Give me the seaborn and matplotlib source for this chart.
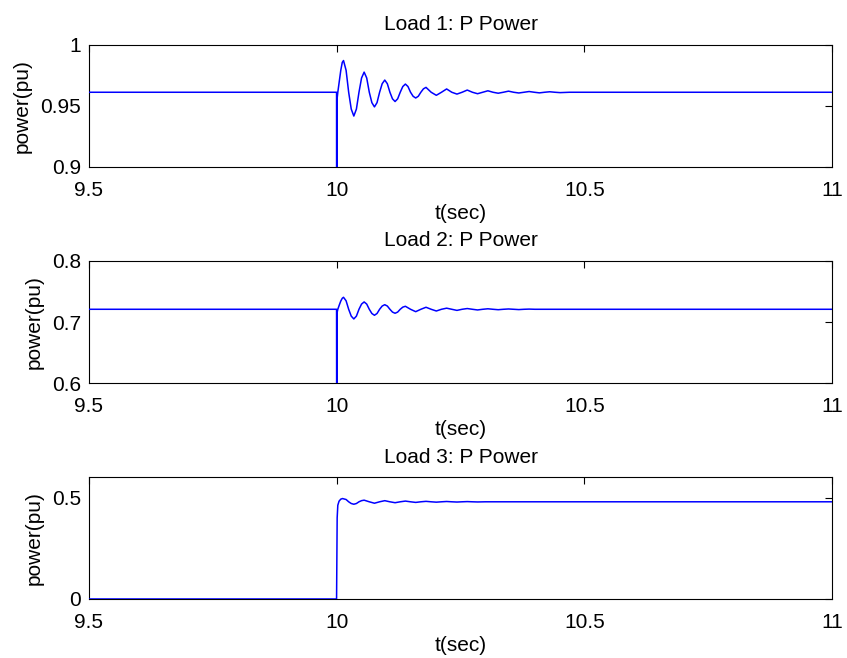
import matplotlib
matplotlib.use("Agg")
import matplotlib.pyplot as plt
import matplotlib.ticker as mticker
import seaborn as sns

# Load 1: P power (pu)
t1 = [9.5, 10.0, 10.0003, 10.0009, 10.0025, 10.0055, 10.0085, 10.0115, 10.014,
      10.0192, 10.0244, 10.0296, 10.0348, 10.040, 10.0452, 10.0504, 10.0556,
      10.0608, 10.066, 10.0712, 10.0764, 10.0816, 10.0868, 10.092, 10.0972,
      10.1024, 10.1076, 10.1128, 10.118, 10.1232, 10.1284, 10.1336, 10.1388,
      10.144, 10.1492, 10.1544, 10.1596, 10.1648, 10.170, 10.1752, 10.1804,
      10.1908, 10.2012, 10.2116, 10.222, 10.2324, 10.2428, 10.2532, 10.2636,
      10.274, 10.2844, 10.2948, 10.3052, 10.3156, 10.326, 10.3364, 10.3468,
      10.3572, 10.3676, 10.378, 10.3884, 10.3988, 10.4092, 10.4196, 10.430,
      10.4404, 10.4508, 10.47, 11.0]
p1 = [0.961, 0.961, 0.55, 0.955, 0.961, 0.970, 0.979, 0.9855, 0.987,
      0.979, 0.961, 0.9472, 0.9415, 0.9472, 0.961, 0.9727, 0.9775,
      0.9727, 0.961, 0.9525, 0.949, 0.9525, 0.961, 0.968, 0.971,
      0.968, 0.961, 0.9556, 0.9534, 0.9556, 0.961, 0.9657, 0.9677,
      0.9657, 0.961, 0.9577, 0.9563, 0.9577, 0.961, 0.9638, 0.965,
      0.961, 0.9585, 0.961, 0.9637, 0.961, 0.9595, 0.961, 0.9628,
      0.961, 0.9598, 0.961, 0.9622, 0.961, 0.9602, 0.961, 0.9619,
      0.961, 0.9604, 0.961, 0.9616, 0.961, 0.9605, 0.961, 0.9614,
      0.961, 0.9607, 0.961, 0.961]

# Load 2
t2 = [9.5, 10.0, 10.0003, 10.0009, 10.0025, 10.0055, 10.0085, 10.0115, 10.014,
      10.0192, 10.0244, 10.0296, 10.0348, 10.040, 10.0452, 10.0504, 10.0556,
      10.0608, 10.066, 10.0712, 10.0764, 10.0816, 10.0868, 10.092, 10.0972,
      10.1024, 10.1076, 10.1128, 10.118, 10.1232, 10.1284, 10.1336, 10.1388,
      10.1492, 10.1596, 10.170, 10.1804, 10.1908, 10.2012, 10.2116, 10.222,
      10.2324, 10.2428, 10.2532, 10.2636, 10.274, 10.2844, 10.2948, 10.3052,
      10.3156, 10.326, 10.3364, 10.3468, 10.3572, 10.3676, 10.378, 10.3884,
      10.40, 11.0]
p2 = [0.721, 0.721, 0.40, 0.715, 0.721, 0.728, 0.7345, 0.739, 0.7406,
      0.7349, 0.721, 0.7098, 0.7052, 0.7098, 0.721, 0.7295, 0.733,
      0.7295, 0.721, 0.7141, 0.7112, 0.7141, 0.721, 0.7263, 0.7285,
      0.7263, 0.721, 0.7164, 0.7145, 0.7164, 0.721, 0.7245, 0.7259,
      0.721, 0.7171, 0.721, 0.7243, 0.721, 0.7182, 0.721, 0.7228,
      0.721, 0.7192, 0.721, 0.7222, 0.721, 0.7199, 0.721, 0.7218,
      0.721, 0.7203, 0.721, 0.7215, 0.721, 0.7205, 0.721, 0.7213,
      0.721, 0.721]

# Load 3
t3 = [9.5, 10.0, 10.0012, 10.0025, 10.005, 10.0085, 10.012, 10.0192, 10.0244,
      10.0296, 10.0348, 10.040, 10.0452, 10.0504, 10.0556, 10.066, 10.0764,
      10.0868, 10.0972, 10.1076, 10.118, 10.1284, 10.1388, 10.1492, 10.1596,
      10.170, 10.1804, 10.1908, 10.2012, 10.2116, 10.222, 10.2324, 10.2428,
      10.2532, 10.2636, 10.274, 10.2844, 10.30, 11.0]
p3 = [0.0, 0.0, 0.40, 0.462, 0.482, 0.492, 0.495, 0.4903, 0.479,
      0.4705, 0.467, 0.4705, 0.479, 0.4846, 0.487, 0.479, 0.472,
      0.479, 0.4845, 0.479, 0.4745, 0.479, 0.4825, 0.479, 0.476,
      0.479, 0.4812, 0.479, 0.4772, 0.479, 0.4805, 0.479, 0.4778,
      0.479, 0.480, 0.479, 0.4782, 0.479, 0.479]

titles = ["Load 1: P Power", "Load 2: P Power", "Load 3: P Power"]
ylims = [(0.9, 1.0), (0.6, 0.8), (0.0, 0.6)]
yticks = [[0.9, 0.95, 1.0], [0.6, 0.7, 0.8], [0.0, 0.5]]
xticks = [9.5, 10, 10.5, 11]

sns.set_style("white")
plt.rcParams["font.family"] = ["Liberation Sans", "DejaVu Sans"]
plt.rcParams.update({
    "font.size": 15,
    "text.color": "black",
    "axes.labelcolor": "black",
    "axes.edgecolor": "black",
    "axes.linewidth": 0.8,
    "xtick.direction": "in",
    "ytick.direction": "in",
    "xtick.color": "black",
    "ytick.color": "black",
    "xtick.major.size": 5,
    "ytick.major.size": 5,
    "xtick.major.width": 0.8,
    "ytick.major.width": 0.8,
    "xtick.major.pad": 10.0,
    "ytick.major.pad": 5.6,
})

fig = plt.figure(figsize=(8.47, 6.58), dpi=100)
rects = [
    [0.1047, 0.7467, 0.878, 0.1854],
    [0.1047, 0.4175, 0.878, 0.1859],
    [0.1047, 0.0897, 0.878, 0.1850],
]

fmt = mticker.FuncFormatter(lambda v, pos: f"{v:g}")

for rect, t, p, title, ylim, yt in zip(rects, [t1, t2, t3], [p1, p2, p3],
                                       titles, ylims, yticks):
    ax = fig.add_axes(rect)
    sns.lineplot(x=t, y=p, ax=ax, color="#0000ff", linewidth=1.1,
                 estimator=None, sort=False, zorder=3)
    ax.set_xlim(9.5, 11)
    ax.set_ylim(*ylim)
    ax.set_xticks(xticks)
    ax.set_yticks(yt)
    ax.xaxis.set_major_formatter(fmt)
    ax.yaxis.set_major_formatter(fmt)
    ax.tick_params(top=True, right=True, labelsize=15)
    ax.set_title(title, fontsize=15, pad=10.5, color="black")
    ax.set_xlabel("t(sec)", fontsize=15, labelpad=3)
    ax.set_ylabel("power(pu)", fontsize=15, labelpad=6)
    for s in ax.spines.values():
        s.set_color("black")
        s.set_linewidth(0.8)

fig.savefig("out.png", dpi=100)
